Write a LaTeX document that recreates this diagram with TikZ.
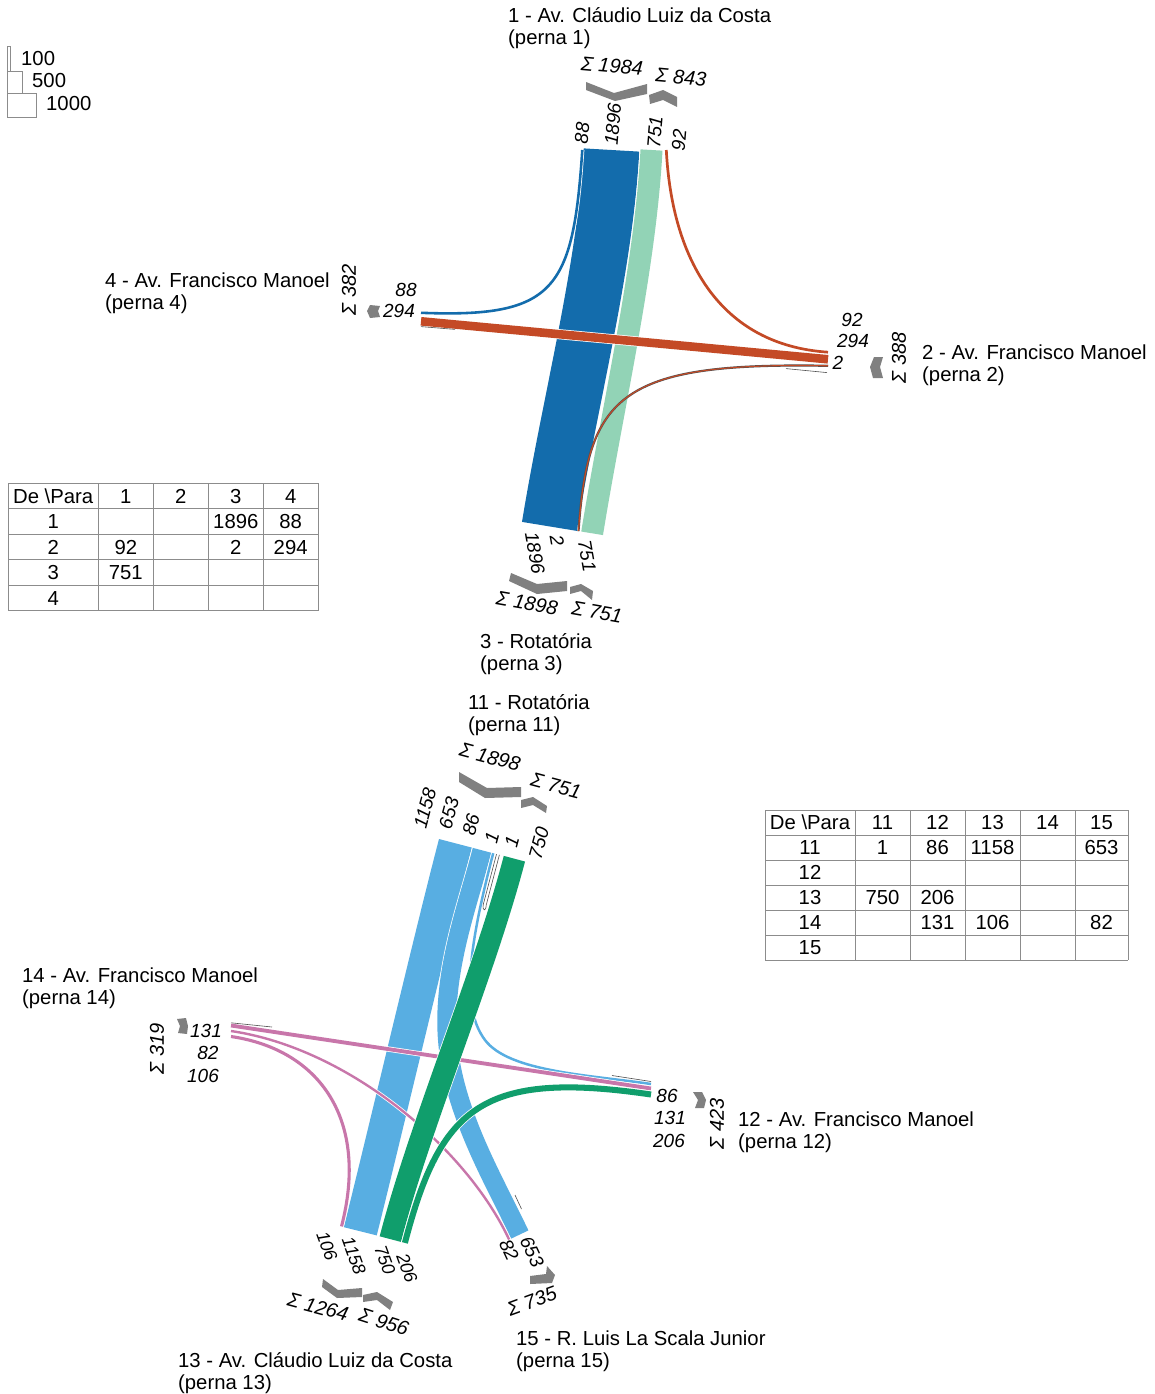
\documentclass[tikz,border=0pt]{standalone}
\usepackage{fontspec}
\setmainfont{Liberation Sans}
\usetikzlibrary{calc}
\definecolor{dblue}{RGB}{19,108,172}
\definecolor{mint}{RGB}{146,211,182}
\definecolor{rust}{RGB}{196,74,38}
\definecolor{lblue}{RGB}{88,174,226}
\definecolor{dgreen}{RGB}{16,158,108}
\definecolor{fpink}{RGB}{200,118,170}
\definecolor{chev}{RGB}{128,128,128}
\definecolor{tline}{RGB}{140,140,140}
\definecolor{edgec}{RGB}{80,80,80}
\newcommand{\flw}[3]{\draw[white,line width=#2pt+1.5pt] #3; \draw[#1,line width=#2pt] #3;}
\begin{document}
\begin{tikzpicture}[x=1pt,y=-1pt,
  txt/.style={inner sep=0pt, font=\fontsize{20.3}{23}\selectfont},
  lab/.style={inner sep=0pt, font=\fontsize{19}{22}\selectfont\itshape},
  slab/.style={inner sep=0pt, font=\fontsize{18}{21}\selectfont\itshape},
  sig/.style={inner sep=0pt, font=\fontsize{20}{23}\selectfont\itshape},
  legname/.style={txt, anchor=base west},
  tcell/.style={txt, anchor=base},
  chevron/.style={fill=chev, draw=none},
  grid/.style={draw=tline, line width=0.8pt},
  edgeline/.style={draw=edgec, line width=0.6pt}]
\fill[white] (0,0) rectangle (1154,1394);
\useasboundingbox (0,0) rectangle (1154,1394);

% ---------- legend ----------
\draw[tline, line width=0.8pt] (7.3,46.7) rectangle (10.3,71.7);
\draw[tline, line width=0.8pt] (7.3,71.7) rectangle (22,93.3);
\draw[tline, line width=0.8pt] (7.3,93.3) rectangle (36.6,117.3);
\node[legname] (lg100) at (21,66) {100};
\node[legname] (lg500) at (32,88) {500};
\node[legname] (lg1000) at (46,111) {1000};

% ---------- top intersection: coordinates ----------
\coordinate (A1to4) at (582.3,150);
\coordinate (A1to3) at (611.5,150);
\coordinate (A3to1t) at (651.5,150);
\coordinate (A2to1t) at (666.3,150);
\coordinate (A1to3b) at (549.4,526.4);
\coordinate (A2to3b) at (578.5,531.1);
\coordinate (A3to1b) at (592.1,533.3);
\coordinate (A1to4l) at (421,312.8);
\coordinate (A2to4l) at (421,321.3);
\coordinate (A2to1r) at (828,352.2);
\coordinate (A2to4r) at (828,359.3);
\coordinate (A2to3r) at (828,365.8);

% flows
\flw{dblue}{55.55}{(A1to3) .. controls (605,270) and (570,400) .. (A1to3b)}
\flw{mint}{22}{(A3to1b) .. controls (613,405) and (645,270) .. (A3to1t)}
\flw{dblue}{2.58}{(A1to4) .. controls (573,290) and (555,318) .. (A1to4l)}
\flw{rust}{2.7}{(A2to1r) .. controls (720,345) and (672,260) .. (A2to1t)}
\draw[edgec, line width=2.2pt] (A2to3r) .. controls (620,362) and (588,395) .. (A2to3b);
\draw[rust, line width=1.1pt] (A2to3r) .. controls (620,362) and (588,395) .. (A2to3b);
\flw{rust}{8.6}{(A2to4r) -- (A2to4l)}
\draw[edgeline] (421,326.6) -- (455,329.4);
\draw[edgeline] (786,368.6) -- (827,372.6);

% chevrons top
\fill[chevron] (586,82) -- (614,93) -- (647,84) -- (647,94) -- (615,101) -- (586,90) -- cycle;
\fill[chevron] (649,95) -- (663,90) -- (677,97) -- (677,107) -- (663,100) -- (650,104) -- cycle;
\fill[chevron] (511,573) -- (537,584) -- (567,581) -- (567,591) -- (537,594) -- (509,581) -- cycle;
\fill[chevron] (570,587) -- (581,584) -- (593,591) -- (592,600) -- (581,591) -- (570,594) -- cycle;
\fill[chevron] (370,305) -- (380,306) -- (378,311) -- (380,317) -- (370,318) -- (367,311) -- cycle;
\fill[chevron] (874,357) -- (883,357) -- (880,367) -- (883,378) -- (873,378) -- (870,367) -- cycle;

% labels top
\node[legname] (n1a) at (508,23) {1 - Av. Cláudio Luiz da Costa};
\node[legname] (n1b) at (508,45) {(perna 1)};
\node[sig, rotate=-5] (s1o) at (612,66) {Σ 1984};
\node[sig, rotate=-5] (s1i) at (681,77) {Σ 843};
\node[lab, rotate=85] (l1a) at (582,133) {88};
\node[lab, rotate=85] (l1b) at (613,124) {1896};
\node[lab, rotate=85] (l1c) at (655,132) {751};
\node[lab, rotate=85] (l1d) at (679,140) {92};

\node[legname] (n4a) at (105,287) {4 - Av. Francisco Manoel};
\node[legname] (n4b) at (105,309) {(perna 4)};
\node[sig, rotate=90] (s4) at (349,290) {Σ 382};
\node[lab] (l4a) at (406,290) {88};
\node[lab] (l4b) at (399,311) {294};

\node[legname] (n2a) at (922,359) {2 - Av. Francisco Manoel};
\node[legname] (n2b) at (922,381) {(perna 2)};
\node[sig, rotate=90] (s2) at (899,358) {Σ 388};
\node[lab] (l2a) at (852,320) {92};
\node[lab] (l2b) at (853,341) {294};
\node[lab] (l2c) at (838,363) {2};

\node[lab, rotate=-80] (l3a) at (535,553) {1896};
\node[lab, rotate=-80] (l3b) at (557,541) {2};
\node[lab, rotate=-80] (l3c) at (587,556) {751};
\node[sig, rotate=-10] (s3o) at (527,603) {Σ 1898};
\node[sig, rotate=-10] (s3i) at (597,612) {Σ 751};
\node[legname] (n3a) at (480,648) {3 - Rotatória};
\node[legname] (n3b) at (480,670) {(perna 3)};

% ---------- top table ----------
\foreach \x in {8,98.3,153.3,208.3,263.3,318} \draw[grid] (\x,483) -- (\x,610.5);
\foreach \y in {483,508.5,534,559.5,585,610.5} \draw[grid] (8,\y) -- (318,\y);
\node[tcell] (ta00) at (53.15,503) {De \textbackslash Para};
\node[tcell] (ta01) at (125.8,503) {1};
\node[tcell] (ta02) at (180.8,503) {2};
\node[tcell] (ta03) at (235.8,503) {3};
\node[tcell] (ta04) at (290.65,503) {4};
\node[tcell] (ta10) at (53.15,528.5) {1};
\node[tcell] (ta20) at (53.15,554) {2};
\node[tcell] (ta30) at (53.15,579.5) {3};
\node[tcell] (ta40) at (53.15,605) {4};
\node[tcell] (ta13) at (235.8,528.5) {1896};
\node[tcell] (ta14) at (290.65,528.5) {88};
\node[tcell] (ta21) at (125.8,554) {92};
\node[tcell] (ta23) at (235.8,554) {2};
\node[tcell] (ta24) at (290.65,554) {294};
\node[tcell] (ta31) at (125.8,579.5) {751};

% ---------- lower intersection: coordinates ----------
\coordinate (B11to13) at (455.4,843.3);
\coordinate (B11to15) at (482.0,850.3);
\coordinate (B11to12) at (493.2,853.2);
\coordinate (BU1) at (496.5,854.1);
\coordinate (BU2) at (499.4,854.8);
\coordinate (B13to11t) at (514.4,858.7);
\coordinate (B14to13b) at (341.5,1226.4);
\coordinate (B11to13b) at (360.3,1231.3);
\coordinate (B13to11b) at (390.3,1239.1);
\coordinate (B13to12b) at (404.9,1242.9);
\coordinate (B14to15e) at (509.1,1239.5);
\coordinate (B11to15e) at (519.8,1234.5);
\coordinate (B14to12l) at (231,1025.5);
\coordinate (B14to15l) at (231,1031);
\coordinate (B14to13l) at (231,1036.5);
\coordinate (B11to12r) at (651,1084);
\coordinate (B14to12r) at (651,1088.5);
\coordinate (B13to12r) at (651,1094.5);

% flows
\flw{lblue}{33.9}{(B11to13) .. controls (431.4,935) and (384.5,1134.5) .. (B11to13b)}
\flw{lblue}{19.1}{(B11to15) .. controls (467,908) and (441,975) .. (448,1045) .. controls (455,1115) and (494,1180) .. (B11to15e)}
\flw{lblue}{2.5}{(B11to12) .. controls (468,950) and (461,1008) .. (485,1040) .. controls (509,1072) and (590,1075) .. (B11to12r)}
\draw[edgeline, fill=white] (BU1) -- (483.3,904.4) .. controls (482,911) and (486,912) .. (486.2,905.1) -- (BU2);
\flw{fpink}{3.84}{(B14to12l) -- (B14to12r)}
\flw{fpink}{2.4}{(B14to15l) .. controls (349.7,1048.5) and (466.8,1148.9) .. (B14to15e)}
\flw{fpink}{3.1}{(B14to13l) .. controls (320,1049.6) and (369.2,1119.9) .. (B14to13b)}
\flw{dgreen}{22}{(B13to11b) .. controls (420.5,1123) and (484,974.7) .. (B13to11t)}
\flw{dgreen}{6.04}{(B13to12b) .. controls (440.2,1107.4) and (481.9,1069.7) .. (B13to12r)}
\draw[edgeline] (231,1022.8) -- (272,1027);
\draw[edgeline] (612,1075.5) -- (651,1081.5);
\draw[edgeline] (515,1195) -- (521.5,1209);

% chevrons lower
\fill[chevron] (459,772) -- (487,788) -- (521,787) -- (521,797) -- (485,798) -- (459,782) -- cycle;
\fill[chevron] (521,800) -- (533,797) -- (547,806) -- (546,813) -- (533,805) -- (521,808) -- cycle;
\fill[chevron] (323,1279) -- (338,1290) -- (362,1288) -- (362,1297) -- (337,1298) -- (322,1287) -- cycle;
\fill[chevron] (363,1295) -- (377,1292) -- (393,1302) -- (390,1310) -- (377,1300) -- (363,1302) -- cycle;
\fill[chevron] (530,1276) -- (546,1274) -- (547,1266) -- (555,1275) -- (552,1283) -- (530,1284) -- cycle;
\fill[chevron] (693,1092) -- (702,1092) -- (706,1100) -- (704,1108) -- (695,1108) -- (698,1100) -- cycle;
\fill[chevron] (177,1019) -- (186,1018) -- (188,1026) -- (187,1034) -- (178,1033) -- (180,1026) -- cycle;

% labels lower
\node[legname] (n11a) at (468,709) {11 - Rotatória};
\node[legname] (n11b) at (468,731) {(perna 11)};
\node[sig, rotate=-15] (s11o) at (490,757) {Σ 1898};
\node[sig, rotate=-15] (s11i) at (556,786) {Σ 751};
\node[lab, rotate=75] (l11a) at (425,808) {1158};
\node[lab, rotate=75] (l11b) at (449,813) {653};
\node[lab, rotate=75] (l11c) at (471,825) {86};
\node[lab, rotate=75] (l11d) at (492,838) {1};
\node[lab, rotate=75] (l11e) at (512,842) {1};
\node[lab, rotate=75] (l11f) at (539,843) {750};

\node[legname] (n14a) at (22,982) {14 - Av. Francisco Manoel};
\node[legname] (n14b) at (22,1004) {(perna 14)};
\node[sig, rotate=90] (s14) at (157,1049) {Σ 319};
\node[lab] (l14a) at (206,1031) {131};
\node[lab] (l14b) at (208,1053) {82};
\node[lab] (l14c) at (203,1076) {106};

\node[legname] (n12a) at (738,1126) {12 - Av. Francisco Manoel};
\node[legname] (n12b) at (738,1148) {(perna 12)};
\node[sig, rotate=90] (s12) at (717,1124) {Σ 423};
\node[lab] (l12a) at (667,1096) {86};
\node[lab] (l12b) at (670,1118) {131};
\node[lab] (l12c) at (669,1141) {206};

\node[slab, rotate=-70] (l13a) at (327,1246) {106};
\node[slab, rotate=-70] (l13b) at (354,1256) {1158};
\node[slab, rotate=-70] (l13c) at (385,1260) {750};
\node[slab, rotate=-70] (l13d) at (407,1268) {206};
\node[sig, rotate=-15] (s13o) at (318,1307) {Σ 1264};
\node[sig, rotate=-18] (s13i) at (384,1322) {Σ 956};
\node[legname] (n13a) at (178,1367) {13 - Av. Cláudio Luiz da Costa};
\node[legname] (n13b) at (178,1389) {(perna 13)};

\node[lab, rotate=-65] (l15a) at (509,1250) {82};
\node[lab, rotate=-65] (l15b) at (532,1252) {653};
\node[sig, rotate=20] (s15) at (532,1301) {Σ 735};
\node[legname] (n15a) at (516,1345) {15 - R. Luis La Scala Junior};
\node[legname] (n15b) at (516,1367) {(perna 15)};

% ---------- lower table ----------
\foreach \x in {765,855,910,965,1020,1075,1128} \draw[grid] (\x,810) -- (\x,960);
\foreach \y in {810,835,860,885,910,935,960} \draw[grid] (765,\y) -- (1128,\y);
\node[tcell] (tb00) at (810,829.5) {De \textbackslash Para};
\node[tcell] (tb01) at (882.5,829.5) {11};
\node[tcell] (tb02) at (937.5,829.5) {12};
\node[tcell] (tb03) at (992.5,829.5) {13};
\node[tcell] (tb04) at (1047.5,829.5) {14};
\node[tcell] (tb05) at (1101.5,829.5) {15};
\node[tcell] (tb10) at (810,854.5) {11};
\node[tcell] (tb20) at (810,879.5) {12};
\node[tcell] (tb30) at (810,904.5) {13};
\node[tcell] (tb40) at (810,929.5) {14};
\node[tcell] (tb50) at (810,954.5) {15};
\node[tcell] (tb11) at (882.5,854.5) {1};
\node[tcell] (tb12) at (937.5,854.5) {86};
\node[tcell] (tb13) at (992.5,854.5) {1158};
\node[tcell] (tb15) at (1101.5,854.5) {653};
\node[tcell] (tb31) at (882.5,904.5) {750};
\node[tcell] (tb32) at (937.5,904.5) {206};
\node[tcell] (tb42) at (937.5,929.5) {131};
\node[tcell] (tb43) at (992.5,929.5) {106};
\node[tcell] (tb45) at (1101.5,929.5) {82};
\end{tikzpicture}
\end{document}
